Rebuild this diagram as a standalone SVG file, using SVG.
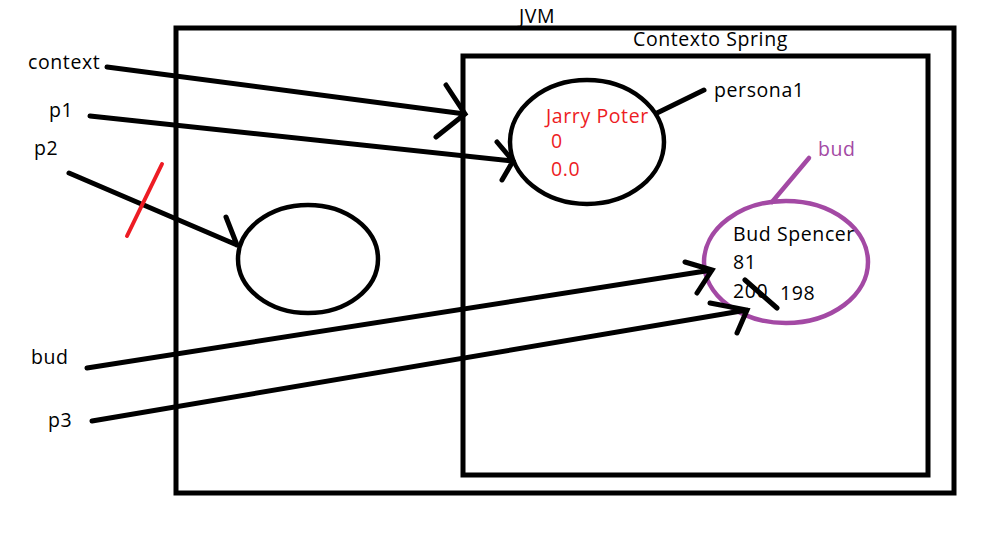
<svg xmlns="http://www.w3.org/2000/svg" width="990" height="558" viewBox="0 0 990 558">
<style>
text{font-family:"Open Sans","Noto Sans","Liberation Sans",sans-serif;font-size:19.5px;letter-spacing:0.6px;fill:#000}
.red{fill:#ED1C24}
.pur{fill:#A349A4}
.box{fill:none;stroke:#000;stroke-width:5}
.ln{fill:none;stroke:#000;stroke-width:5;stroke-linecap:round}
.el{fill:none;stroke:#000;stroke-width:4.5}
</style>
<rect width="990" height="558" fill="#fff"/>
<g id="jvm">
<rect class="box" x="176" y="28" width="778" height="465"/>
<text x="519" y="23">JVM</text>
</g>
<g id="spring">
<rect class="box" x="463" y="56" width="465" height="419"/>
<text x="633" y="46">Contexto Spring</text>
</g>
<g id="persona1">
<ellipse class="el" cx="587" cy="142" rx="77" ry="62"/>
<text class="red" x="546" y="123">Jarry Poter</text>
<text class="red" x="551" y="148">0</text>
<text class="red" x="551" y="176">0.0</text>
<line class="ln" x1="657" y1="113" x2="704" y2="90" stroke-width="4"/>
<text x="714" y="97">persona1</text>
</g>
<g id="budobj">
<ellipse cx="786" cy="262" rx="82" ry="61" fill="none" stroke="#A349A4" stroke-width="4.5"/>
<line x1="772" y1="202" x2="809" y2="158" stroke="#A349A4" stroke-width="4.5" stroke-linecap="round"/>
<text class="pur" x="818" y="156">bud</text>
<text x="733" y="241">Bud Spencer</text>
<text x="733" y="269">81</text>
<text x="733" y="298">200</text>
<text x="780" y="300">198</text>
<line class="ln" x1="745" y1="280" x2="777" y2="308" stroke-width="4"/>
</g>
<g id="orphan">
<ellipse class="el" cx="308" cy="259" rx="70" ry="54"/>
</g>
<g id="labels">
<text x="28" y="69">context</text>
<text x="49" y="117">p1</text>
<text x="34" y="155">p2</text>
<text x="31" y="364">bud</text>
<text x="48" y="427">p3</text>
</g>
<g id="connectors">
<path class="ln" d="M107 67 L465 114 M446 85 L465 114 L436 137"/>
<path class="ln" d="M90 116 L513 161 M497 142 L513 161 L502 180"/>
<path class="ln" d="M69 173 L237 245 M226 217 L237 245"/>
<line x1="162" y1="164" x2="127" y2="236" stroke="#ED1C24" stroke-width="4" stroke-linecap="round"/>
<path class="ln" d="M87 368 L712 270 M685 262 L712 270 L697 293"/>
<path class="ln" d="M92 421 L747 310 M710 303 L747 310 L737 333"/>
</g>
</svg>
